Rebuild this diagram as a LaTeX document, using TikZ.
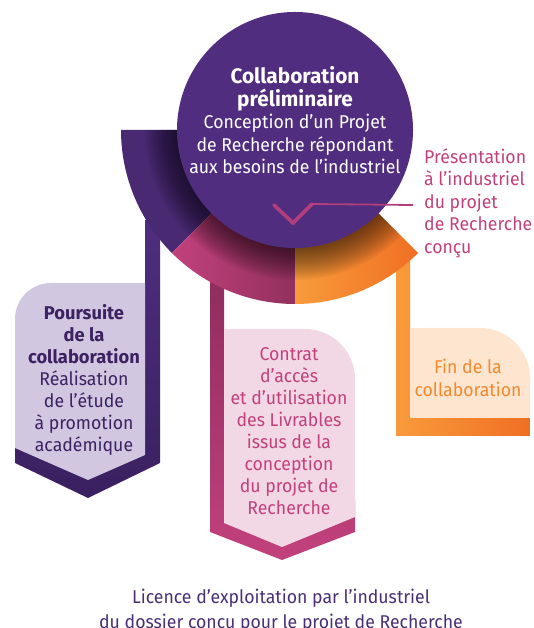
\documentclass[tikz,border=0pt]{standalone}
\usepackage{fontspec}
\setmainfont{Fira Sans}[FakeStretch=0.955, BoldFeatures={FakeStretch=0.99}]

\definecolor{mainpurple}{HTML}{502D7F}
\definecolor{deeppurple}{HTML}{3A2060}
\definecolor{lavender}{HTML}{D1C7E0}
\definecolor{rosepink}{HTML}{C2417D}
\definecolor{winepink}{HTML}{8E2C5E}
\definecolor{blush}{HTML}{F1D8E4}
\definecolor{orangeL}{HTML}{F89B3B}
\definecolor{orangeD}{HTML}{F06F23}
\definecolor{peach}{HTML}{FDE5D0}
\definecolor{orangetext}{HTML}{F18A2E}
\definecolor{inktext}{HTML}{4A2F77}
\definecolor{lefttext}{HTML}{3D2262}

\newcommand\headingbf{\fontsize{21}{24}\selectfont\bfseries}

\begin{document}
\begin{tikzpicture}[x=1pt,y=1pt,
  txt/.style={inner sep=0pt, font=\fontsize{18.5}{22.5}\selectfont},
  tighttxt/.style={txt, font=\fontsize{18.5}{22}\selectfont},
  vmark/.style={draw=rosepink!85!mainpurple, line width=3.6pt, line cap=round, line join=miter},
  leader/.style={draw=rosepink!85!mainpurple, line width=1.8pt}]
\useasboundingbox (0,0) rectangle (534,628);

% ---- left branch: stem, chevron and box
\path[top color=mainpurple, bottom color=deeppurple]
  (145,408) -- (160,408) -- (160,165) -- (88,130) -- (15,165) -- (15,188) -- (145,188) -- cycle;
\fill[lavender] (15,180) -- (15,309) arc[start angle=180,end angle=90,radius=36]
  -- (145,345) -- (145,173) -- (88,148) -- cycle;

% ---- middle branch
\path[top color=winepink, bottom color=rosepink]
  (210,358) -- (224,358) -- (224,128) -- (355,128) -- (355,96) -- (282,68) -- (210,96) -- cycle;
\fill[blush] (224,105) -- (224,299) -- (305,299) arc[start angle=90,end angle=0,radius=50]
  -- (355,111) -- (282,81) -- cycle;

% ---- right branch
\path[left color=orangeL, right color=orangeD]
  (396,383) -- (410,383) -- (410,210) -- (530,210) -- (530,192) -- (396,192) -- cycle;
\fill[peach] (410,210) -- (410,300) -- (480,300) arc[start angle=90,end angle=0,radius=50]
  -- (530,210) -- cycle;

% ---- ring of three sectors
\coordinate (hub) at (295,498);
\fill[mainpurple!90!black] (hub) -- ++(180:174) arc[start angle=180,end angle=225,radius=174] -- cycle;
\path[left color=rosepink, right color=rosepink!75!black]
  (hub) -- ++(225:174) arc[start angle=225,end angle=270,radius=174] -- cycle;
\path[left color=orangeL, right color=orangeD]
  (hub) -- ++(270:174) arc[start angle=270,end angle=315,radius=174] -- cycle;
% soft shadow of the central disc on the ring: stacked translucent discs
\begin{scope}
  \clip (hub) -- ++(180:174) arc[start angle=180,end angle=315,radius=174] -- cycle;
  \foreach \k in {1,...,16}
    \fill[black, opacity=0.045] (hub) circle[radius=118+2*\k];
\end{scope}

% ---- central disc
\node[circle, fill=mainpurple, minimum size=236pt, inner sep=0pt] (core) at (hub) {};

% ---- chevron mark and leader line
\coordinate (vL) at (274,423);
\coordinate (vTip) at (293,405);
\coordinate (vR) at (312,424);
\coordinate (leadEnd) at (413,423);
\draw[vmark] (vL) -- (vTip) -- (vR);
\draw[leader] (vR) -- (leadEnd);

% ---- texts
\node[txt, text=white, align=center] (title) at (295,507.5)
  {{\headingbf Collaboration}\\{\headingbf préliminaire}\\Conception d’un Projet\\de Recherche répondant\\aux besoins de l’industriel};
\node[txt, text=rosepink, align=left, anchor=west] (present) at (424,425)
  {Présentation\\à l’industriel\\du projet\\de Recherche\\conçu};
\node[tighttxt, text=lefttext, align=center] (pursue) at (84,248)
  {\textbf{Poursuite}\\\textbf{de la}\\\textbf{collaboration}\\Réalisation\\de l’étude\\à promotion\\académique};
\node[tighttxt, text=rosepink, align=center] (contract) at (289,197)
  {Contrat\\d’accès\\et d’utilisation\\des Livrables\\issus de la\\conception\\du projet de\\Recherche};
\node[txt, text=orangetext, align=center] (finish) at (468,250)
  {Fin de la\\collaboration};
\node[txt, text=inktext, align=center, font=\fontsize{18.5}{25}\selectfont] (licence) at (281,16.5)
  {Licence d’exploitation par l’industriel\\du dossier conçu pour le projet de Recherche};
\end{tikzpicture}
\end{document}
